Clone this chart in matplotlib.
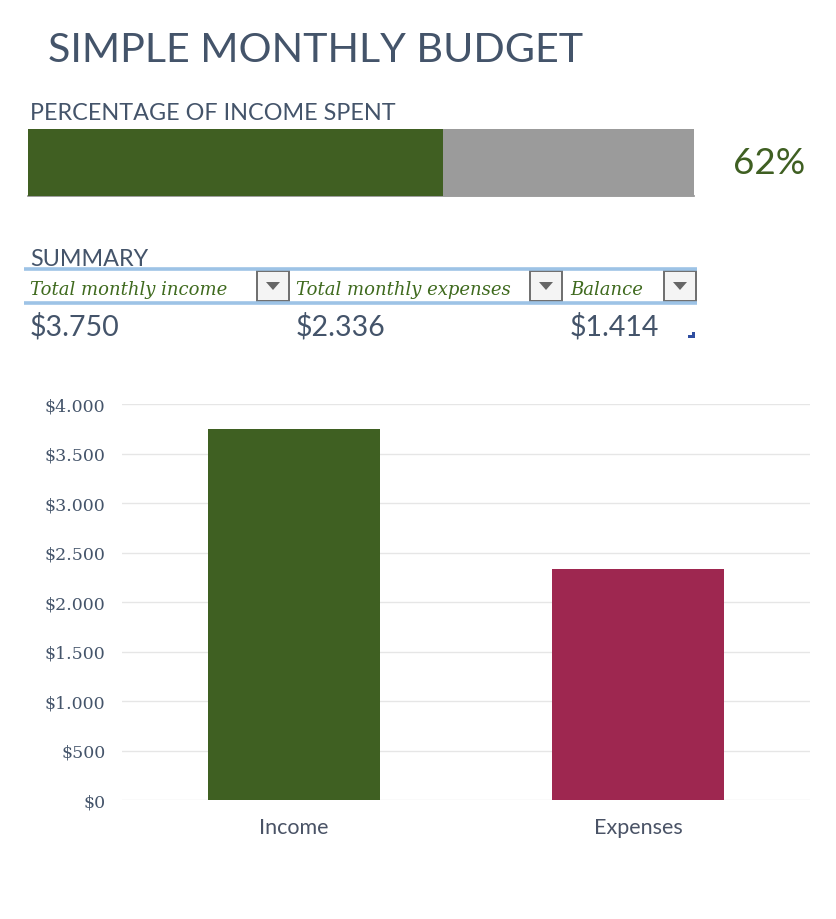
import matplotlib
matplotlib.use("Agg")
import matplotlib.pyplot as plt
from matplotlib.patches import Rectangle, Polygon
from matplotlib.ticker import FuncFormatter

# data
categories = ["Income", "Expenses"]
amounts = [3750, 2336]
summary_headers = ["Total monthly income", "Total monthly expenses", "Balance"]
summary_values = [amounts[0], amounts[1], amounts[0] - amounts[1]]
y_ticks = [0, 500, 1000, 1500, 2000, 2500, 3000, 3500, 4000]

SLATE = "#44546A"
GREEN = "#3F5F22"
RED = "#9E2750"
GRAY = "#9B9B9B"
BLUE_LINE = "#9DC3E6"

W, H = 836, 920


def money(v):
    return "$" + f"{v:,.0f}".replace(",", ".")


fig = plt.figure(figsize=(W / 100, H / 100), dpi=100)

# overlay in pixel coordinates for the header part
ov = fig.add_axes([0, 0, 1, 1])
ov.set_xlim(0, W)
ov.set_ylim(H, 0)
ov.axis("off")

ov.text(48, 50, "SIMPLE MONTHLY BUDGET", fontsize=29.7, color=SLATE,
        family="Lato", va="center", ha="left")
ov.text(30, 114, "PERCENTAGE OF INCOME SPENT", fontsize=16.8, color=SLATE,
        family="Lato", va="center", ha="left")

# percentage bar
spent = amounts[1] / amounts[0]
pax = fig.add_axes([28 / W, (H - 197) / H, 666 / W, 67 / H])
pax.barh([0], [1], height=1, color=GRAY)
pax.barh([0], [spent], height=1, color="#405F22")
pax.set_xlim(0, 1)
pax.set_ylim(-0.5, 0.5)
pax.axis("off")
ov.plot([28, 694], [196.5, 196.5], color="#8C8C8C", lw=1.2)
ov.text(769, 164, f"{spent:.0%}", fontsize=26.5, color=GREEN, family="Lato",
        va="center", ha="center")

# summary table
ov.text(30, 260, "SUMMARY", fontsize=16.8, color=SLATE, family="Lato",
        va="center", ha="left")
for y in (269.5, 303.5):
    ov.plot([24, 697], [y, y], color=BLUE_LINE, lw=2.6, solid_capstyle="butt")

col_x = [30, 296, 570]
box_x = [257, 530, 664]
for hx, bx, head, val in zip(col_x, box_x, summary_headers, summary_values):
    ov.text(hx, 290, head, fontsize=13, color="#3F6A1E", family="DejaVu Serif",
            style="italic", va="center", ha="left")
    ov.add_patch(Rectangle((bx, 272), 32, 30, facecolor="#F4F4F4",
                           edgecolor="#6E6E6E", lw=1.4))
    ov.add_patch(Polygon([(bx + 9, 283), (bx + 23, 283), (bx + 16, 291)],
                         closed=True, facecolor="#666666", edgecolor="none"))
    ov.text(hx, 327, money(val), fontsize=20.5, color=SLATE, family="Lato",
            va="center", ha="left")

ov.add_patch(Polygon([(695, 333), (695, 339), (688, 339), (688, 336), (692, 336),
                      (692, 333)], closed=True, facecolor="#2F4EA0",
                     edgecolor="none"))

# bar chart
ax = fig.add_axes([122 / W, (H - 801) / H, 688 / W, 396 / H])
ax.bar(range(len(categories)), amounts, width=0.5, color=["#3F6022", RED])
ax.set_xlim(-0.5, len(categories) - 0.5)
ax.set_ylim(0, 4000)
ax.set_yticks(y_ticks)
ax.yaxis.set_major_formatter(FuncFormatter(lambda v, p: money(v)))
ax.set_xticks(range(len(categories)))
ax.set_xticklabels(categories, fontsize=15.5, color="#4A5366", family="Lato")
for lab in ax.get_yticklabels():
    lab.set_fontsize(12.5)
    lab.set_color(SLATE)
    lab.set_family("DejaVu Serif")
ax.tick_params(length=0)
ax.tick_params(axis="y", pad=12)
ax.tick_params(axis="x", pad=12)
ax.grid(axis="y", color="#E6E6E6", lw=1)
ax.set_axisbelow(True)
for s in ax.spines.values():
    s.set_visible(False)

fig.savefig("out.png", dpi=100)
